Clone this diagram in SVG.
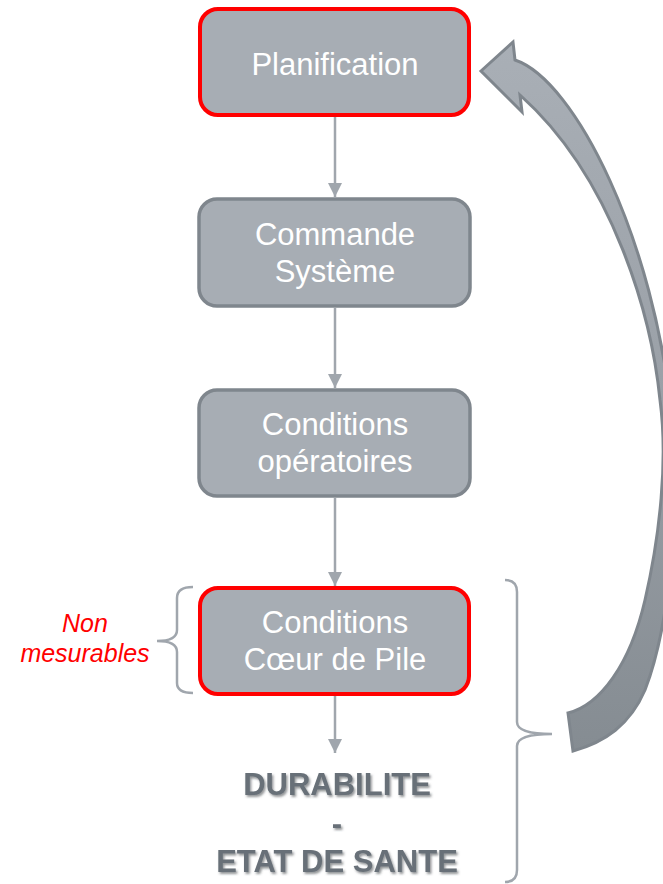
<svg xmlns="http://www.w3.org/2000/svg" width="663" height="884" viewBox="0 0 663 884">
<defs>
<style>
.box{fill:#a7adb4;stroke:#7f868d;stroke-width:3.5}
.red{stroke:#ff0000;stroke-width:4}
.t{font-family:"Liberation Sans",Arial,sans-serif;font-size:31px;fill:#ffffff;text-anchor:middle}
.c{stroke:#a0a6ad;stroke-width:2.5;fill:none}
.br{stroke:#a0a6ad;stroke-width:2.5;fill:none}
.h{fill:#a0a6ad}
.big{font-family:"Liberation Sans",Arial,sans-serif;font-size:31px;font-weight:bold;fill:#687078;text-anchor:middle}
.nm{font-family:"Liberation Sans",Arial,sans-serif;font-size:25px;font-style:italic;fill:#ff0000;text-anchor:middle}
</style>
<marker id="ah" viewBox="0 0 10 10" refX="10" refY="5" markerWidth="5.6" markerHeight="5.6" orient="auto" markerUnits="strokeWidth">
<path d="M0,0 L10,5 L0,10 Z" class="h"/>
</marker>
<linearGradient id="ag" x1="0" y1="0" x2="0" y2="1">
<stop offset="0" stop-color="#a9afb6"/>
<stop offset="0.5" stop-color="#9aa0a7"/>
<stop offset="1" stop-color="#858c92"/>
</linearGradient>
<filter id="sh" x="-10%" y="-20%" width="120%" height="150%">
<feDropShadow dx="1.5" dy="2" stdDeviation="1.2" flood-color="#3a3f44" flood-opacity="0.55"/>
</filter>
</defs>

<g id="connectors">
<line class="c" x1="335" y1="117" x2="335" y2="197" marker-end="url(#ah)"/>
<line class="c" x1="335" y1="308" x2="335" y2="388" marker-end="url(#ah)"/>
<line class="c" x1="335" y1="498" x2="335" y2="586" marker-end="url(#ah)"/>
<line class="c" x1="335" y1="696" x2="335" y2="753" marker-end="url(#ah)"/>
<path id="feedback" d="M481,71 L513,42 L515,60 C575,80 655,240 672,420 C679,500 672,620 645,690 C630,725 605,742 573,751 L568,713 C600,705 630,665 645,600 C660,535 668,460 660,400 C652,320 615,180 520,95 L522,112 Z" fill="url(#ag)" stroke="#7f868d" stroke-width="3" stroke-linejoin="miter"/>
</g>

<g id="node-planification">
<rect class="box red" x="200" y="9" width="269" height="106" rx="18"/>
<text class="t" x="335" y="75">Planification</text>
</g>

<g id="node-commande">
<rect class="box" x="199" y="199" width="271" height="107" rx="18"/>
<text class="t" x="335" y="245">Commande</text>
<text class="t" x="335" y="282">Système</text>
</g>

<g id="node-conditions-op">
<rect class="box" x="199" y="390" width="271" height="106" rx="18"/>
<text class="t" x="335" y="435">Conditions</text>
<text class="t" x="335" y="472">opératoires</text>
</g>

<g id="node-coeur">
<rect class="box red" x="200" y="588" width="269" height="106" rx="18"/>
<text class="t" x="335" y="633">Conditions</text>
<text class="t" x="335" y="670">Cœur de Pile</text>
</g>

<g id="node-durabilite" filter="url(#sh)">
<text class="big" x="337" y="795">DURABILITE</text>
<text class="big" x="337" y="834">-</text>
<text class="big" x="337" y="872">ETAT DE SANTE</text>
</g>

<g id="brace-left">
<path class="br" d="M193,587 Q177,587 177,598 V630 Q177,641 157,641 Q177,641 177,652 V683 Q177,693 193,693"/>
<text class="nm" x="85" y="632">Non</text>
<text class="nm" x="85" y="662">mesurables</text>
</g>

<g id="brace-right">
<path class="br" d="M505,580 Q517,580 517,592 V722 Q517,734 552,734 Q517,734 517,746 V870 Q517,882 505,882"/>
</g>
</svg>
